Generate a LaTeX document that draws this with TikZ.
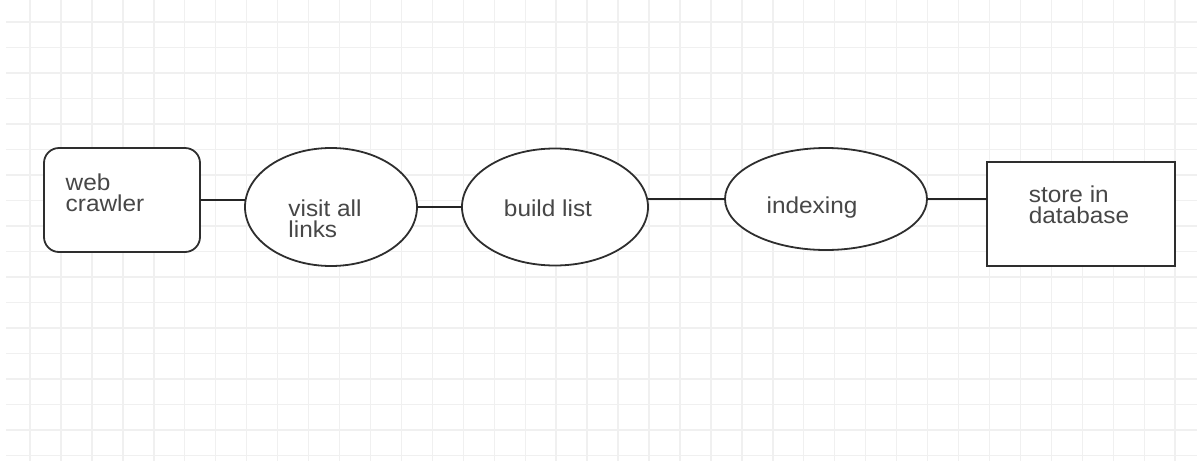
\documentclass[tikz,border=0pt]{standalone}
\usepackage{fontspec}
\setmainfont[FakeStretch=1.06]{Liberation Sans}
\usetikzlibrary{shapes.geometric}

\definecolor{gridgray}{HTML}{F0F0F0}
\definecolor{edgegray}{HTML}{2E2E2E}
\definecolor{textgray}{HTML}{474747}

\begin{document}
\begin{tikzpicture}[x=1pt, y=-1pt,
        shapeline/.style={draw=edgegray, line width=1.8pt, fill=white, inner sep=0pt, outer sep=0pt},
        oval/.style={shapeline, ellipse},
        box/.style={shapeline, rectangle},
        every label/.style={text=textgray, align=left, inner sep=0pt, font=\fontsize{23}{21}\selectfont},
        link/.style={draw=edgegray!80!black, line width=2.8pt}]
            \useasboundingbox (0,0) rectangle (1197,461);

            % grid
            \foreach \gx in {0,...,37}
                \draw[gridgray, line width=1.4pt] (30+30.95*\gx, 0) -- (30+30.95*\gx, 461);
            \foreach \gy in {0,...,17}
                \draw[gridgray, line width=1.4pt] (6, 22+25.5*\gy) -- (1197, 22+25.5*\gy);

            % steps
            \node[box, rounded corners=15pt, minimum width=156pt, minimum height=104pt,
                label={[xshift=-17pt, yshift=7pt]center:web\\crawler}] (crawler) at (122, 200) {};
            \node[oval, minimum width=172pt, minimum height=118pt,
                label={[xshift=-6pt, yshift=-12pt]center:visit all\\links}] (visit) at (331, 207) {};
            \node[oval, minimum width=186pt, minimum height=117pt,
                label={[xshift=-7pt, yshift=-1pt]center:build list}] (build) at (555, 207) {};
            \node[oval, minimum width=202pt, minimum height=102pt,
                label={[xshift=-14pt, yshift=-9pt]center:indexing}] (index) at (826, 199) {};
            \node[box, minimum width=188pt, minimum height=104pt,
                label={[xshift=-2pt, yshift=9pt]center:store in\\database}] (store) at (1081, 214) {};

            % connectors
            \draw[link] (crawler.east) -- (crawler.east -| visit.west);
            \draw[link] (visit.east) -- (visit.east -| build.west);
            \draw[link] (index.west -| build.east) -- (index.west);
            \draw[link] (index.east) -- (index.east -| store.west);
\end{tikzpicture}
\end{document}
